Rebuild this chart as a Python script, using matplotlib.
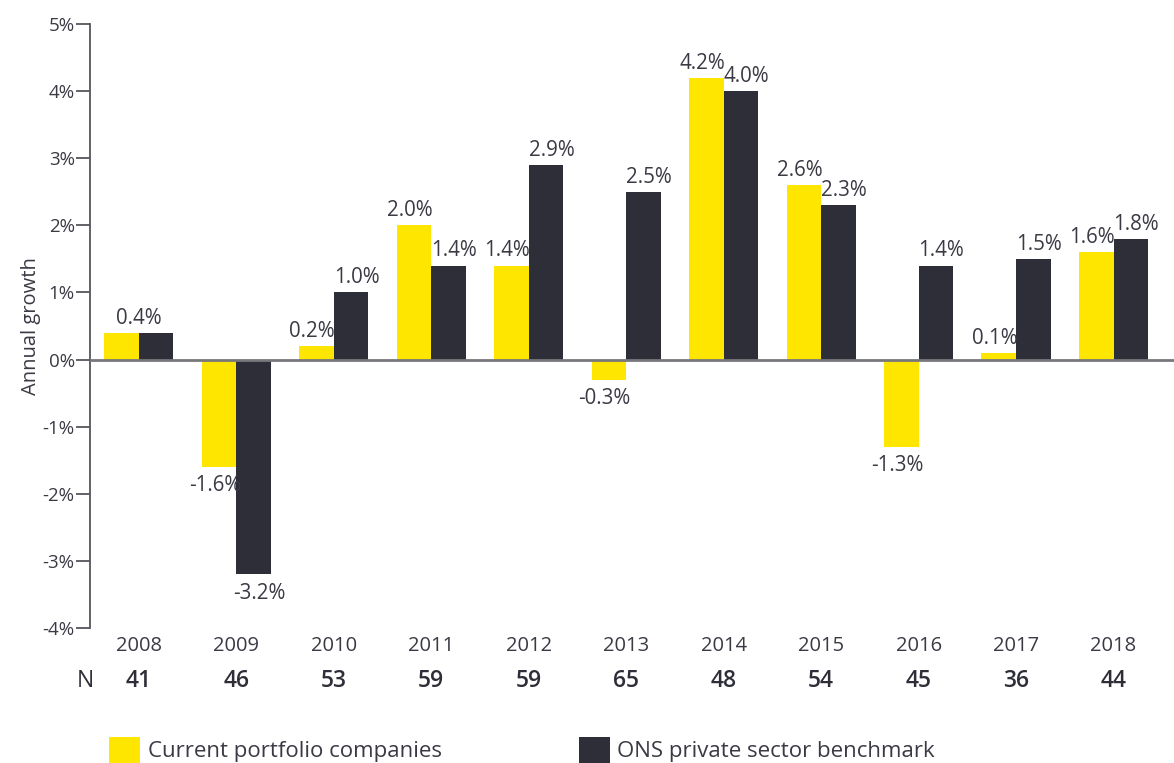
import numpy as np
import matplotlib
matplotlib.use("Agg")
import matplotlib.pyplot as plt
from matplotlib.transforms import blended_transform_factory

plt.rcParams['font.family'] = ['Open Sans', 'DejaVu Sans']

years = ['2008', '2009', '2010', '2011', '2012', '2013', '2014', '2015', '2016', '2017', '2018']
n_counts = [41, 46, 53, 59, 59, 65, 48, 54, 45, 36, 44]
portfolio = [0.4, -1.6, 0.2, 2.0, 1.4, -0.3, 4.2, 2.6, -1.3, 0.1, 1.6]
benchmark = [0.4, -3.2, 1.0, 1.4, 2.9, 2.5, 4.0, 2.3, 1.4, 1.5, 1.8]

yellow = '#FFE600'
dark = '#2E2E38'
txt = '#3a3a44'

fig = plt.figure(figsize=(11.74, 7.63), dpi=100)
ax = fig.add_axes([90/1174, 1-628/763, 1-90/1174, (628-24)/763])

x = np.arange(len(years))
w = 0.355
b1 = ax.bar(x - w/2, portfolio, w, color=yellow, label='Current portfolio companies')
b2 = ax.bar(x + w/2, benchmark, w, color=dark, label='ONS private sector benchmark')

# value labels
fs = 14.8
for i in range(len(years)):
    p, b = portfolio[i], benchmark[i]
    if p == b:
        ax.annotate(f'{p:.1f}%', (x[i], p), xytext=(0, 3), textcoords='offset points',
                    ha='center', va='bottom', fontsize=fs, color=txt)
        continue
    for xv, v, dx in ((x[i] - w/2, p, -3), (x[i] + w/2, b, 4)):
        if v >= 0:
            ax.annotate(f'{v:.1f}%', (xv, v), xytext=(dx, 3), textcoords='offset points',
                        ha='center', va='bottom', fontsize=fs, color=txt)
        else:
            ax.annotate(f'{v:.1f}%', (xv, v), xytext=(dx, -6), textcoords='offset points',
                        ha='center', va='top', fontsize=fs, color=txt)

ax.axhline(0, color='#77777c', lw=2, zorder=3)

ax.set_xlim(-0.5, 10.62)
ax.set_ylim(-4, 5)
ax.set_yticks(range(-4, 6))
ax.set_yticklabels([f'{t}%' for t in range(-4, 6)])
ax.set_xticks(x)
ax.set_xticklabels(years)
ax.tick_params(axis='x', length=0, pad=6, labelsize=14.5, labelcolor=txt)
ax.tick_params(axis='y', length=10, width=1.3, color='#55555c', pad=1, labelsize=13.5, labelcolor=txt)
for s in ('top', 'right', 'bottom'):
    ax.spines[s].set_visible(False)
ax.spines['left'].set_color('#55555c')
ax.spines['left'].set_linewidth(1.3)
ax.set_ylabel('Annual growth', fontsize=14.5, color=txt, labelpad=1)

# N row
tr = blended_transform_factory(ax.transData, ax.transAxes)
ax.text(-0.55, -0.087, 'N', transform=tr, ha='center', va='center', fontsize=16.5, color='#2e2e38')
for i, n in enumerate(n_counts):
    ax.text(x[i], -0.087, str(n), transform=tr, ha='center', va='center',
            fontsize=16.5, color='#2e2e38', fontweight='semibold')

fig.legend(handles=[b1, b2], loc='upper left', bbox_to_anchor=(109/1174, 1-737/763),
           ncol=2, frameon=False, fontsize=16, handlelength=1.4, handleheight=1.4,
           handletextpad=0.35, columnspacing=6.15, borderpad=0, borderaxespad=0,
           labelcolor=txt)

fig.savefig('out.png', dpi=100)
